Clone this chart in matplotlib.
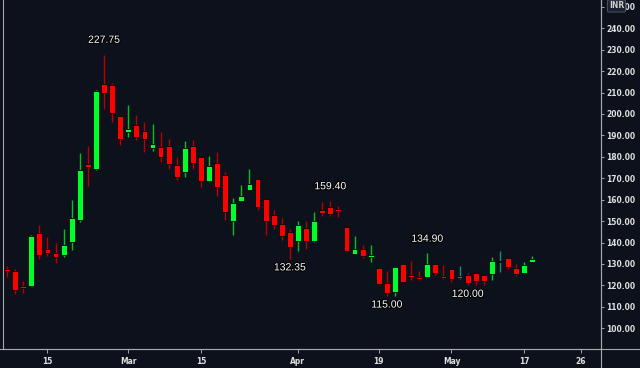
import numpy as np
import matplotlib
matplotlib.use("Agg")
import matplotlib.pyplot as plt
import matplotlib.patheffects as pe
from matplotlib.lines import Line2D

# ---------------------------------------------------------------------------
# Daily OHLC (trading-day index 0 = Feb 8)
# ---------------------------------------------------------------------------
opens = [127.7, 126.6, 119.9, 119.9, 144.3, 137.0, 135.3, 134.4, 140.3, 150.5,
         176.5, 174.2, 213.9, 213.5, 199.1, 191.7, 194.9, 192.2, 184.0, 184.5,
         185.1, 176.2, 173.1, 185.1, 179.8, 168.9, 177.1, 171.5, 149.9, 159.3,
         164.7, 169.5, 160.2, 152.7, 148.5, 144.8, 140.9, 147.0, 140.7, 155.1,
         156.5, 155.0, 147.3, 134.8, 136.9, 133.3, 128.1, 121.0, 116.8, 129.9,
         124.9, 124.1, 124.1, 130.0, 124.6, 127.5, 123.5, 124.9, 125.7, 124.7,
         125.2, 130.8, 132.7, 128.0, 125.7, 130.8]
highs = [129.1, 127.7, 122.2, 143.5, 148.2, 142.5, 139.7, 146.3, 159.9, 182.0,
         185.1, 211.0, 227.75, 214.3, 199.1, 204.2, 199.5, 196.1, 195.3, 191.7,
         188.2, 180.1, 187.4, 187.9, 179.8, 180.4, 182.3, 172.8, 160.7, 166.9,
         174.2, 169.5, 160.2, 155.2, 151.3, 146.3, 150.1, 149.9, 154.1, 159.1,
         159.4, 157.2, 147.3, 143.1, 138.9, 138.7, 128.5, 126.7, 128.5, 129.9,
         131.4, 126.7, 134.9, 130.0, 129.5, 127.5, 129.1, 126.0, 125.7, 124.7,
         133.1, 136.1, 132.7, 130.0, 130.8, 133.9]
lows = [124.1, 116.2, 116.6, 119.5, 132.2, 133.7, 130.3, 133.1, 136.5, 149.8,
        166.6, 174.0, 202.2, 196.1, 185.7, 189.4, 187.9, 182.4, 182.9, 177.8,
        174.5, 169.2, 170.5, 174.2, 166.1, 168.9, 161.9, 150.5, 143.5, 159.3,
        164.7, 155.2, 143.5, 146.5, 141.2, 132.35, 136.2, 137.0, 140.1, 152.6,
        152.4, 152.1, 135.8, 134.8, 132.7, 131.0, 120.0, 115.0, 115.0, 121.8,
        122.5, 122.5, 124.1, 124.9, 122.9, 121.8, 122.9, 120.0, 120.2, 120.2,
        122.5, 126.4, 127.8, 124.6, 125.7, 130.8]
closes = [126.6, 118.0, 119.0, 143.2, 134.4, 135.0, 133.1, 138.9, 151.5, 173.9,
          175.3, 210.7, 210.0, 200.6, 188.2, 193.0, 189.4, 188.3, 185.9, 180.1,
          176.5, 170.5, 184.0, 177.0, 168.9, 175.7, 165.8, 154.4, 158.3, 161.6,
          167.3, 156.8, 150.2, 148.1, 143.1, 137.8, 148.2, 140.8, 150.1, 153.8,
          153.2, 154.9, 136.2, 137.0, 133.7, 134.2, 120.5, 116.6, 128.5, 121.8,
          123.7, 122.9, 130.0, 125.7, 123.3, 122.9, 123.5, 121.3, 122.1, 122.1,
          131.4, 130.8, 128.5, 125.2, 129.4, 132.2]

# labelled extremes: (candle index, text, above/below)
marks = [(12, "227.75", "above"), (40, "159.40", "above"), (52, "134.90", "above"),
         (35, "132.35", "below"), (47, "115.00", "below"), (57, "120.00", "below")]

tick_pos = [5, 15, 24, 36, 46, 55, 64, 71]
tick_labels = ["15", "Mar", "15", "Apr", "19", "May", "17", "26"]
price_ticks = list(range(100, 251, 10))

BG = "#0c111c"
UP = "#00ff2a"
DOWN = "#ff0000"
FLAT = "#1a8f78"
AXIS = "#a8a8a8"

fig = plt.figure(figsize=(6.4, 3.68), dpi=100, facecolor=BG)
ax = fig.add_axes([3 / 640, 19 / 368, 598 / 640, 349 / 368])
ax.set_facecolor(BG)

x = np.arange(len(opens))
o = np.array(opens)
c = np.array(closes)
h = np.array(highs)
l = np.array(lows)

body_col = np.where(c > o, UP, np.where(c < o, DOWN, FLAT))
wick_col = np.where(c > o, "#00c21f", np.where(c < o, "#b80000", FLAT))

ax.vlines(x, l, h, colors=wick_col, linewidth=1.0, zorder=2)
bottoms = np.minimum(o, c)
heights = np.maximum(np.abs(c - o), 0.7)
ax.bar(x, heights, bottom=bottoms, width=0.72, color=body_col,
       edgecolor="#05070a", linewidth=0.6, zorder=3)

outline = [pe.withStroke(linewidth=1.5, foreground="#000000")]
for i, txt, side in marks:
    if side == "above":
        ax.annotate(txt, (x[i], h[i]), xytext=(0, 7), textcoords="offset points",
                    ha="center", va="bottom", color="white", fontsize=7.5,
                    family="Liberation Sans", path_effects=outline, zorder=5)
    else:
        ax.annotate(txt, (x[i], l[i]), xytext=(0, -2.5), textcoords="offset points",
                    ha="center", va="top", color="white", fontsize=7.5,
                    family="Liberation Sans", path_effects=outline, zorder=5)

ax.set_xlim(-0.5, 73.5)
ax.set_ylim(90.3, 253.2)

ax.set_xticks(tick_pos)
ax.set_xticklabels(tick_labels)
ax.set_yticks(price_ticks)
ax.set_yticklabels([f"{p:.2f}" for p in price_ticks])
ax.yaxis.tick_right()
ax.tick_params(axis="y", colors=AXIS, labelcolor="#e0e0e0", labelsize=6,
               length=2, width=0.7, pad=2)
ax.tick_params(axis="x", colors=AXIS, labelcolor="#e0e0e0", labelsize=6,
               length=3, width=0.7, pad=3)
for lab in ax.get_xticklabels() + ax.get_yticklabels():
    lab.set_fontweight("bold")
    lab.set_fontstretch("condensed")

ax.grid(False)
ax.spines["top"].set_visible(False)
for side in ("left", "right", "bottom"):
    ax.spines[side].set_color(AXIS)
    ax.spines[side].set_linewidth(0.8)

# currency badge over the top price label
ax.text(1.026, 253.2 - 3.0 / 2.143 * 2, "INR", transform=ax.get_yaxis_transform(),
        ha="center", va="center", color="#d0d0d0", fontsize=5.5, fontweight="bold",
        bbox=dict(boxstyle="round,pad=0.2", facecolor="#1a2130", edgecolor="#555c6a",
                  linewidth=0.6), zorder=6, clip_on=False)

# frame lines running past the plot area
fig.add_artist(Line2D([0, 1], [19 / 368, 19 / 368], color=AXIS, linewidth=0.8))
fig.add_artist(Line2D([601 / 640, 601 / 640], [0, 1], color=AXIS, linewidth=0.8))

fig.savefig("out.png", dpi=100, facecolor=BG)
